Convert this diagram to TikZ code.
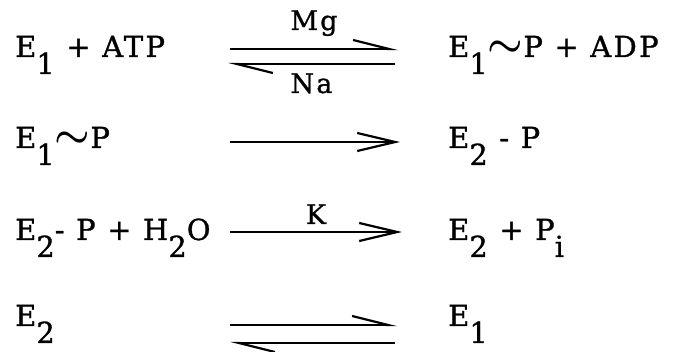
\documentclass[tikz,border=0pt]{standalone}
\usepackage{fontspec}
\usepackage{amsmath,amssymb}
\usetikzlibrary{arrows.meta}
\newfontfamily\tw[LetterSpace=8,FakeBold=1]{DejaVu Serif}
\newcommand{\dn}[1]{\raisebox{-17pt}{#1}}
\newcommand{\tl}{\raisebox{0pt}{\scalebox{1.6}{$\boldsymbol{\sim}$}}}
\tikzset{
    chem/.style={anchor=base west, inner sep=0pt, font=\tw\fontsize{29}{31}\selectfont},
    lbl/.style={inner sep=0pt, anchor=base, font=\tw\fontsize{27}{29}\selectfont},
    fwd/.style={line width=2.2pt, -{Straight Barb[length=38pt,width=18pt]}},
    half/.style={line width=2.2pt, -{Straight Barb[harpoon,length=36pt,width=18pt]}},
}
\begin{document}
\begin{tikzpicture}[x=1pt,y=-1pt]
    \useasboundingbox (0,0) rectangle (673,352);

    % left column
    \node[chem] (l1) at (15,57) {E\dn{1} + ATP};
    \node[chem] (l2) at (15,148) {E\dn{1}\tl P};
    \node[chem] (l3) at (15,240) {E\dn{2}- P + H\dn{2}O};
    \node[chem] (l4) at (15,326) {E\dn{2}};

    % right column
    \node[chem] (r1) at (448,57) {E\dn{1}\tl P + ADP};
    \node[chem] (r2) at (448,148) {E\dn{2} - P};
    \node[chem] (r3) at (448,240) {E\dn{2} + P\dn{i}};
    \node[chem] (r4) at (448,326) {E\dn{1}};

    % arrow ends
    \coordinate (a1) at (230,49);  \coordinate (b1) at (398,49);
    \coordinate (c1) at (228,64);  \coordinate (d1) at (395,64);
    \coordinate (a2) at (230,142); \coordinate (b2) at (400,142);
    \coordinate (a3) at (230,232); \coordinate (b3) at (402,232);
    \coordinate (a4) at (230,325); \coordinate (b4) at (397,325);
    \coordinate (c4) at (230,343); \coordinate (d4) at (395,343);

    % arrows
    \draw[half] (a1) -- node[lbl, yshift=19pt] {Mg} (b1);
    \draw[half] (d1) -- node[lbl, yshift=-29pt] {Na} (c1);
    \draw[fwd] (a2) -- (b2);
    \draw[fwd] (a3) -- node[lbl, yshift=8pt] {K} (b3);
    \draw[half] (a4) -- (b4);
    \draw[half] (d4) -- (c4);
\end{tikzpicture}
\end{document}
